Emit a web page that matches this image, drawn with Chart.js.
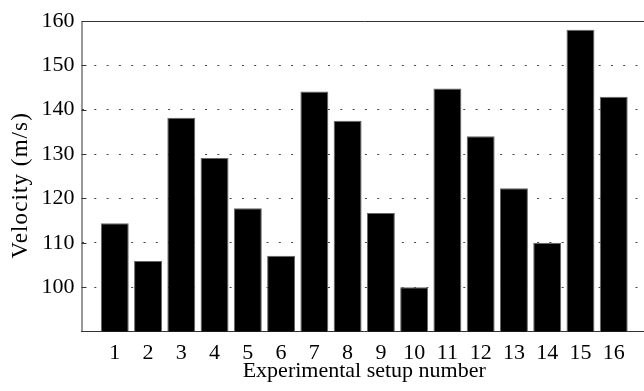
<!DOCTYPE html>
<html>
<head>
<meta charset="utf-8">
<script src="https://cdn.jsdelivr.net/npm/chart.js@4"></script>
<style>
  html, body { margin: 0; padding: 0; background: #fff; overflow: hidden; }
  canvas { display: block; }
</style>
</head>
<body>
<canvas id="velChart" width="660" height="391"></canvas>
<script>
// measured velocity for each experimental setup
var setups = [1, 2, 3, 4, 5, 6, 7, 8, 9, 10, 11, 12, 13, 14, 15, 16];
var velocity = [114.4, 105.9, 138.2, 129.1, 117.8, 107.1, 144.1, 137.5, 116.7, 100.0, 144.8, 134.0, 122.3, 110.0, 158.0, 142.9];
var yTicks = [100, 110, 120, 130, 140, 150, 160];
var yLabel = 'Velocity (m/s)';

var serif = "'Liberation Serif', 'Times New Roman', serif";
var axisColor = '#333';

// box round the axes, inward tick marks and the rotated y label
let frame = {
    id: 'frame',
    afterDraw: (chart) => {
        let ctx = chart.ctx;
        let a = chart.chartArea;
        let y = chart.scales.y;
        ctx.save();
        ctx.strokeStyle = axisColor;
        ctx.lineWidth = 1;
        ctx.setLineDash([]);
        ctx.beginPath();
        ctx.moveTo(a.right, a.top + 0.5);
        ctx.lineTo(a.left + 0.5, a.top + 0.5);
        ctx.lineTo(a.left + 0.5, a.bottom);
        yTicks.forEach(v => {
            let py = Math.round(y.getPixelForValue(v)) + 0.5;
            ctx.moveTo(a.left, py);
            ctx.lineTo(a.left + 5, py);
        });
        ctx.stroke();

        ctx.translate(21, (a.top + a.bottom) / 2 + 9);
        ctx.rotate(-Math.PI / 2);
        ctx.font = '23px ' + serif;
        ctx.letterSpacing = '1.1px';
        ctx.fillStyle = '#000';
        ctx.textAlign = 'center';
        ctx.textBaseline = 'middle';
        ctx.fillText(yLabel, 0, 0);
        ctx.restore();
    }
};

let points = setups.map((s, i) => ({ x: s, y: velocity[i] }));

let ctx = document.getElementById('velChart');
var velChart = new Chart(ctx, {
    type: 'bar',
    data: {
        datasets: [{
            data: points,
            backgroundColor: '#000',
            borderColor: '#666',
            borderWidth: 1,
            categoryPercentage: 1,
            barPercentage: 0.84
        }]
    },
    options: {
        responsive: false,
        animation: false,
        layout: { padding: { left: 0, top: 21, right: 13, bottom: 0 } },
        plugins: {
            legend: { display: false },
            tooltip: { enabled: false }
        },
        scales: {
            x: {
                type: 'linear',
                min: 0,
                max: 17,
                offset: false,
                afterFit: (scale) => { scale.height = 59.5; },
                afterBuildTicks: (scale) => {
                    scale.ticks = setups.map(v => ({ value: v }));
                },
                ticks: {
                    autoSkip: false,
                    maxRotation: 0,
                    padding: 9,
                    color: '#000',
                    font: { family: serif, size: 22 },
                    callback: (v) => String(v)
                },
                grid: { display: false, drawTicks: false, offset: false },
                border: { display: true, color: axisColor, width: 1 },
                title: {
                    display: true,
                    text: 'Experimental setup number',
                    color: '#000',
                    font: { family: serif, size: 22, lineHeight: 1 },
                    padding: { top: 0, bottom: 9 }
                }
            },
            y: {
                min: 90,
                max: 160,
                afterFit: (scale) => { scale.width = 81.5; },
                afterBuildTicks: (scale) => {
                    scale.ticks = yTicks.map(v => ({ value: v }));
                },
                ticks: {
                    padding: 7,
                    color: '#000',
                    font: { family: serif, size: 22 }
                },
                grid: {
                    drawTicks: false,
                    color: '#444',
                    lineWidth: 1
                },
                border: { display: false, dash: [2, 10.3] }
            }
        }
    },
    plugins: [frame]
});
</script>
</body>
</html>
